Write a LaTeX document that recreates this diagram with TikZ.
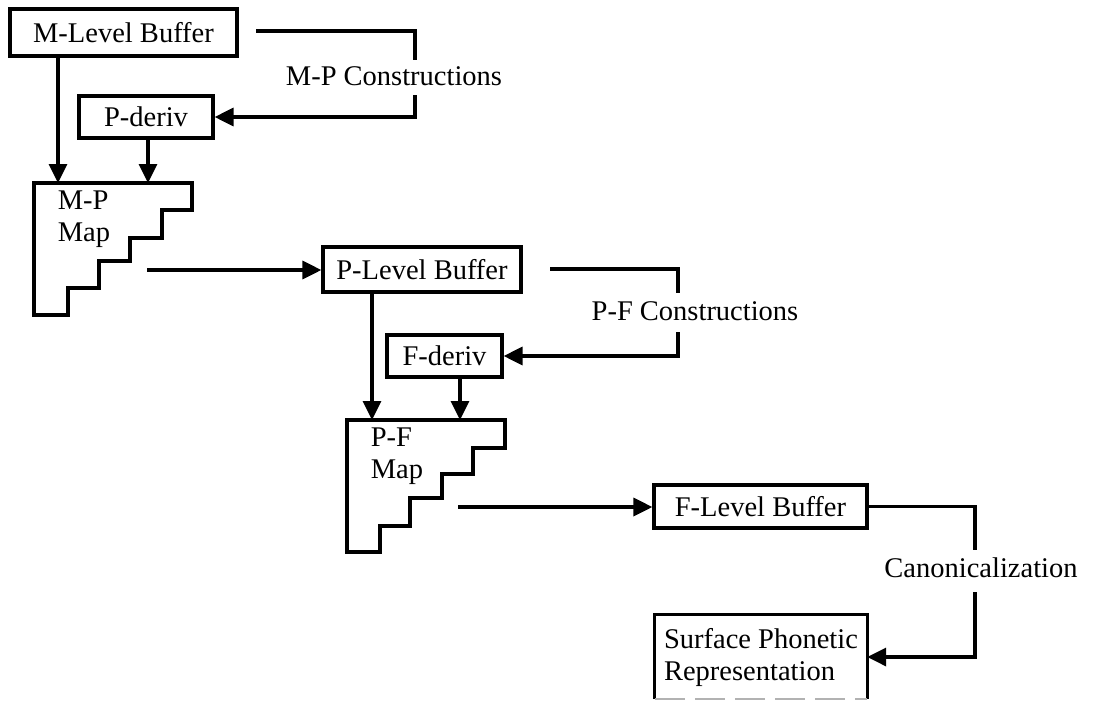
\documentclass[tikz,border=0pt]{standalone}
\usepackage{fontspec}
\setmainfont{Liberation Serif}
\usetikzlibrary{arrows.meta}
\begin{document}
\begin{tikzpicture}[x=1pt,y=-1pt,
  every node/.style={font=\fontsize{28.5}{32}\selectfont, inner sep=0pt},
  boxnode/.style={draw, line width=3.2pt, minimum width=#1},
  conn/.style={line width=3.4pt},
  arr/.style={line width=3.4pt, -{Triangle[length=19pt,width=18pt]}},
  mapshape/.style={draw, line width=3.4pt, line join=miter}]
\useasboundingbox (0,0) rectangle (1106,702);

% boxes
\node[boxnode=227pt, minimum height=47pt] (mlb) at (123.5,32.5) {M-Level Buffer};
\node[boxnode=134pt, minimum height=42pt] (pd) at (146,117) {P-deriv};
\node[boxnode=198pt, minimum height=45pt] (plb) at (422,269.5) {P-Level Buffer};
\node[boxnode=115pt, minimum height=42pt] (fd) at (444.5,356) {F-deriv};
\node[boxnode=213pt, minimum height=43pt] (flb) at (760.5,506.5) {F-Level Buffer};
\node[minimum width=212pt, minimum height=84pt, align=left] (spr) at (761,657) {Surface Phonetic\\Representation};
\draw[line width=3.2pt] (spr.south west) -- (spr.north west) -- (spr.north east) -- (spr.south east);
\draw[line width=1.8pt, gray!60, dash pattern=on 30pt off 10pt] (spr.south west) -- (spr.south east);

% maps
\draw[mapshape] (34,183) -- (192,183) -- (192,210) -- (162,210) -- (162,238) -- (130,238) -- (130,261) -- (99,261) -- (99,288) -- (68,288) -- (68,315) -- (34,315) -- cycle;
\node[align=left] (mpm) at (84,219) {M-P\\Map};
\draw[mapshape] (347,420) -- (505,420) -- (505,448) -- (473,448) -- (473,474) -- (442,474) -- (442,498) -- (410,498) -- (410,526) -- (380,526) -- (380,552) -- (347,552) -- cycle;
\node[align=left] (pfm) at (397,456) {P-F\\Map};

% labels
\node (mpc) at (394,76) {M-P Constructions};
\node (pfc) at (695,311) {P-F Constructions};
\node (can) at (981,568) {Canonicalization};

% named coordinates
\coordinate (mpA) at (58,183);
\coordinate (mpB) at (148,183);
\coordinate (mpO) at (147,270);
\coordinate (pfA) at (372,420);
\coordinate (pfB) at (460,420);
\coordinate (pfO) at (458,507);
\coordinate (m1) at (256,31);
\coordinate (m2) at (415,60);
\coordinate (m3) at (415,95);
\coordinate (p1) at (550,269);
\coordinate (p2) at (678,293);
\coordinate (p3) at (678,332);
\coordinate (c2) at (975,550);
\coordinate (c3) at (975,592);

% arrows down into maps
\draw[arr] (mlb.south -| mpA) -- (mpA);
\draw[arr] (pd.south -| mpB) -- (mpB);
\draw[arr] (plb.south -| pfA) -- (pfA);
\draw[arr] (fd.south -| pfB) -- (pfB);

% map outputs
\draw[arr] (mpO) -- (mpO -| plb.west);
\draw[arr] (pfO) -- (pfO -| flb.west);

% construction loops
\draw[conn] (m1) -| (m2);
\draw[arr] (m3) |- (pd.east);
\draw[conn] (p1) -| (p2);
\draw[arr] (p3) |- (fd.east);
\draw[conn] (flb.east) -| (c2);
\draw[arr] (c3) |- (spr.east);
\end{tikzpicture}
\end{document}
